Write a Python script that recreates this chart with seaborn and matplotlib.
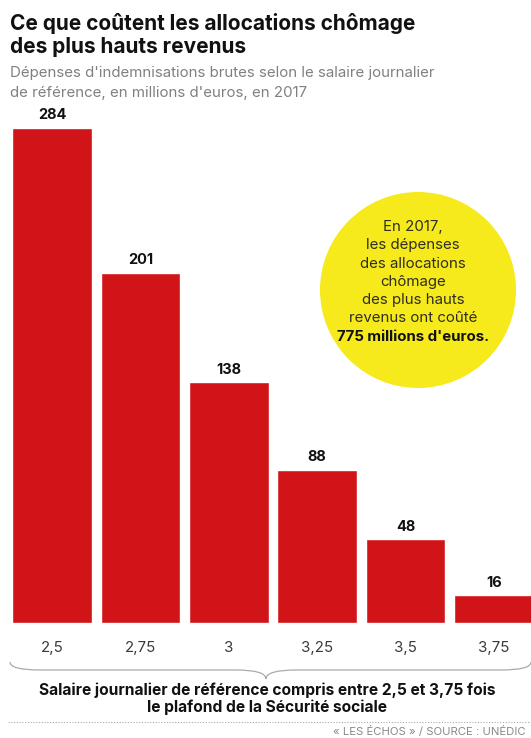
import matplotlib
matplotlib.use("Agg")
import matplotlib.pyplot as plt
import seaborn as sns
import pandas as pd
from matplotlib.patches import Ellipse, PathPatch
from matplotlib.path import Path
from matplotlib.lines import Line2D

categories = ["2,5", "2,75", "3", "3,25", "3,5", "3,75"]
values = [284, 201, 138, 88, 48, 16]
title_lines = ["Ce que coûtent les allocations chômage", "des plus hauts revenus"]
subtitle_lines = ["Dépenses d'indemnisations brutes selon le salaire journalier",
                  "de référence, en millions d'euros, en 2017"]
bubble_lines = ["En 2017,", "les dépenses", "des allocations", "chômage",
                "des plus hauts", "revenus ont coûté"]
bubble_bold = "775 millions d'euros"
xlabel_lines = ["Salaire journalier de référence compris entre 2,5 et 3,75 fois",
                "le plafond de la Sécurité sociale"]
source = "« LES ÉCHOS » / SOURCE : UNÉDIC"

sns.set_theme(style="white")
plt.rcParams['font.family'] = ['Inter', 'DejaVu Sans']

W, H = 531, 738
fig = plt.figure(figsize=(W / 100, H / 100), dpi=100)
fig.patch.set_facecolor("white")

def fx(px):
    return px / W

def fy(py):
    return 1 - py / H

ax = fig.add_axes([fx(8), fy(623), fx(523), (623 - 100) / H])
df = pd.DataFrame({"cat": categories, "val": values})
sns.barplot(data=df, x="cat", y="val", color="#d11418", saturation=1, width=0.9, ax=ax)
ax.set_xlim(-0.5, 5.42)
ax.set_ylim(0, 300)
ax.bar_label(ax.containers[0], labels=[str(v) for v in values], padding=4,
             fontsize=10.5, fontweight="bold", color="#111111")
for s in ax.spines.values():
    s.set_visible(False)
ax.set_yticks([])
ax.set_xlabel("")
ax.set_ylabel("")
ax.tick_params(axis="x", length=0, pad=13, labelsize=10.8, labelcolor="#3a3a3a")

# Title & subtitle
fig.text(fx(10), fy(30), title_lines[0], fontsize=15, fontweight="bold",
         color="#111111", va="baseline", ha="left")
fig.text(fx(10), fy(53), title_lines[1], fontsize=15, fontweight="bold",
         color="#111111", va="baseline", ha="left")
fig.text(fx(10), fy(77.5), subtitle_lines[0], fontsize=10.8, color="#808080",
         va="baseline", ha="left")
fig.text(fx(10), fy(97.5), subtitle_lines[1], fontsize=10.8, color="#808080",
         va="baseline", ha="left")

# Yellow bubble
cx, cy, r = 418, 290, 98
fig.patches.append(Ellipse((fx(cx), fy(cy)), width=2 * r / W, height=2 * r / H,
                           transform=fig.transFigure, facecolor="#f6ea1c",
                           edgecolor="none", zorder=3))
tx, y0, dy = 413, 227, 18.3
for i, line in enumerate(bubble_lines):
    fig.text(fx(tx), fy(y0 + i * dy), line, fontsize=10.8, color="#2e2e22",
             ha="center", va="center", zorder=4)
fig.text(fx(tx), fy(y0 + 6 * dy), bubble_bold + ".", fontsize=10.8,
         fontweight="bold", color="#111111", ha="center", va="center", zorder=4)

# Brace
xl, xr, xm = 10, 531, 266
yt, yh, ytip = 662, 670, 679
verts = [(xl, yt), (xl, yh), (xl + 30, yh),
         (xm - 30, yh), (xm, yh), (xm, ytip),
         (xm, yh), (xm + 30, yh),
         (xr - 30, yh), (xr, yh), (xr, yt)]
codes = [Path.MOVETO, Path.CURVE3, Path.CURVE3,
         Path.LINETO, Path.CURVE3, Path.CURVE3,
         Path.CURVE3, Path.CURVE3,
         Path.LINETO, Path.CURVE3, Path.CURVE3]
verts_f = [(fx(x), fy(y)) for x, y in verts]
fig.patches.append(PathPatch(Path(verts_f, codes), transform=fig.transFigure,
                             facecolor="none", edgecolor="#aaaaaa", lw=0.9))

fig.text(fx(267), fy(690), xlabel_lines[0], fontsize=11.2, fontweight="bold",
         color="#111111", ha="center", va="center")
fig.text(fx(267), fy(707), xlabel_lines[1], fontsize=11.2, fontweight="bold",
         color="#111111", ha="center", va="center")

fig.lines.append(Line2D([fx(8), fx(531)], [fy(722), fy(722)], transform=fig.transFigure,
                        color="#aaaaaa", lw=0.8, linestyle=(0, (1, 1.5))))
fig.text(fx(333), fy(732), source, fontsize=8.2, color="#8a8a8a",
         ha="left", va="center")

fig.savefig("out.png", dpi=100, facecolor="white")
